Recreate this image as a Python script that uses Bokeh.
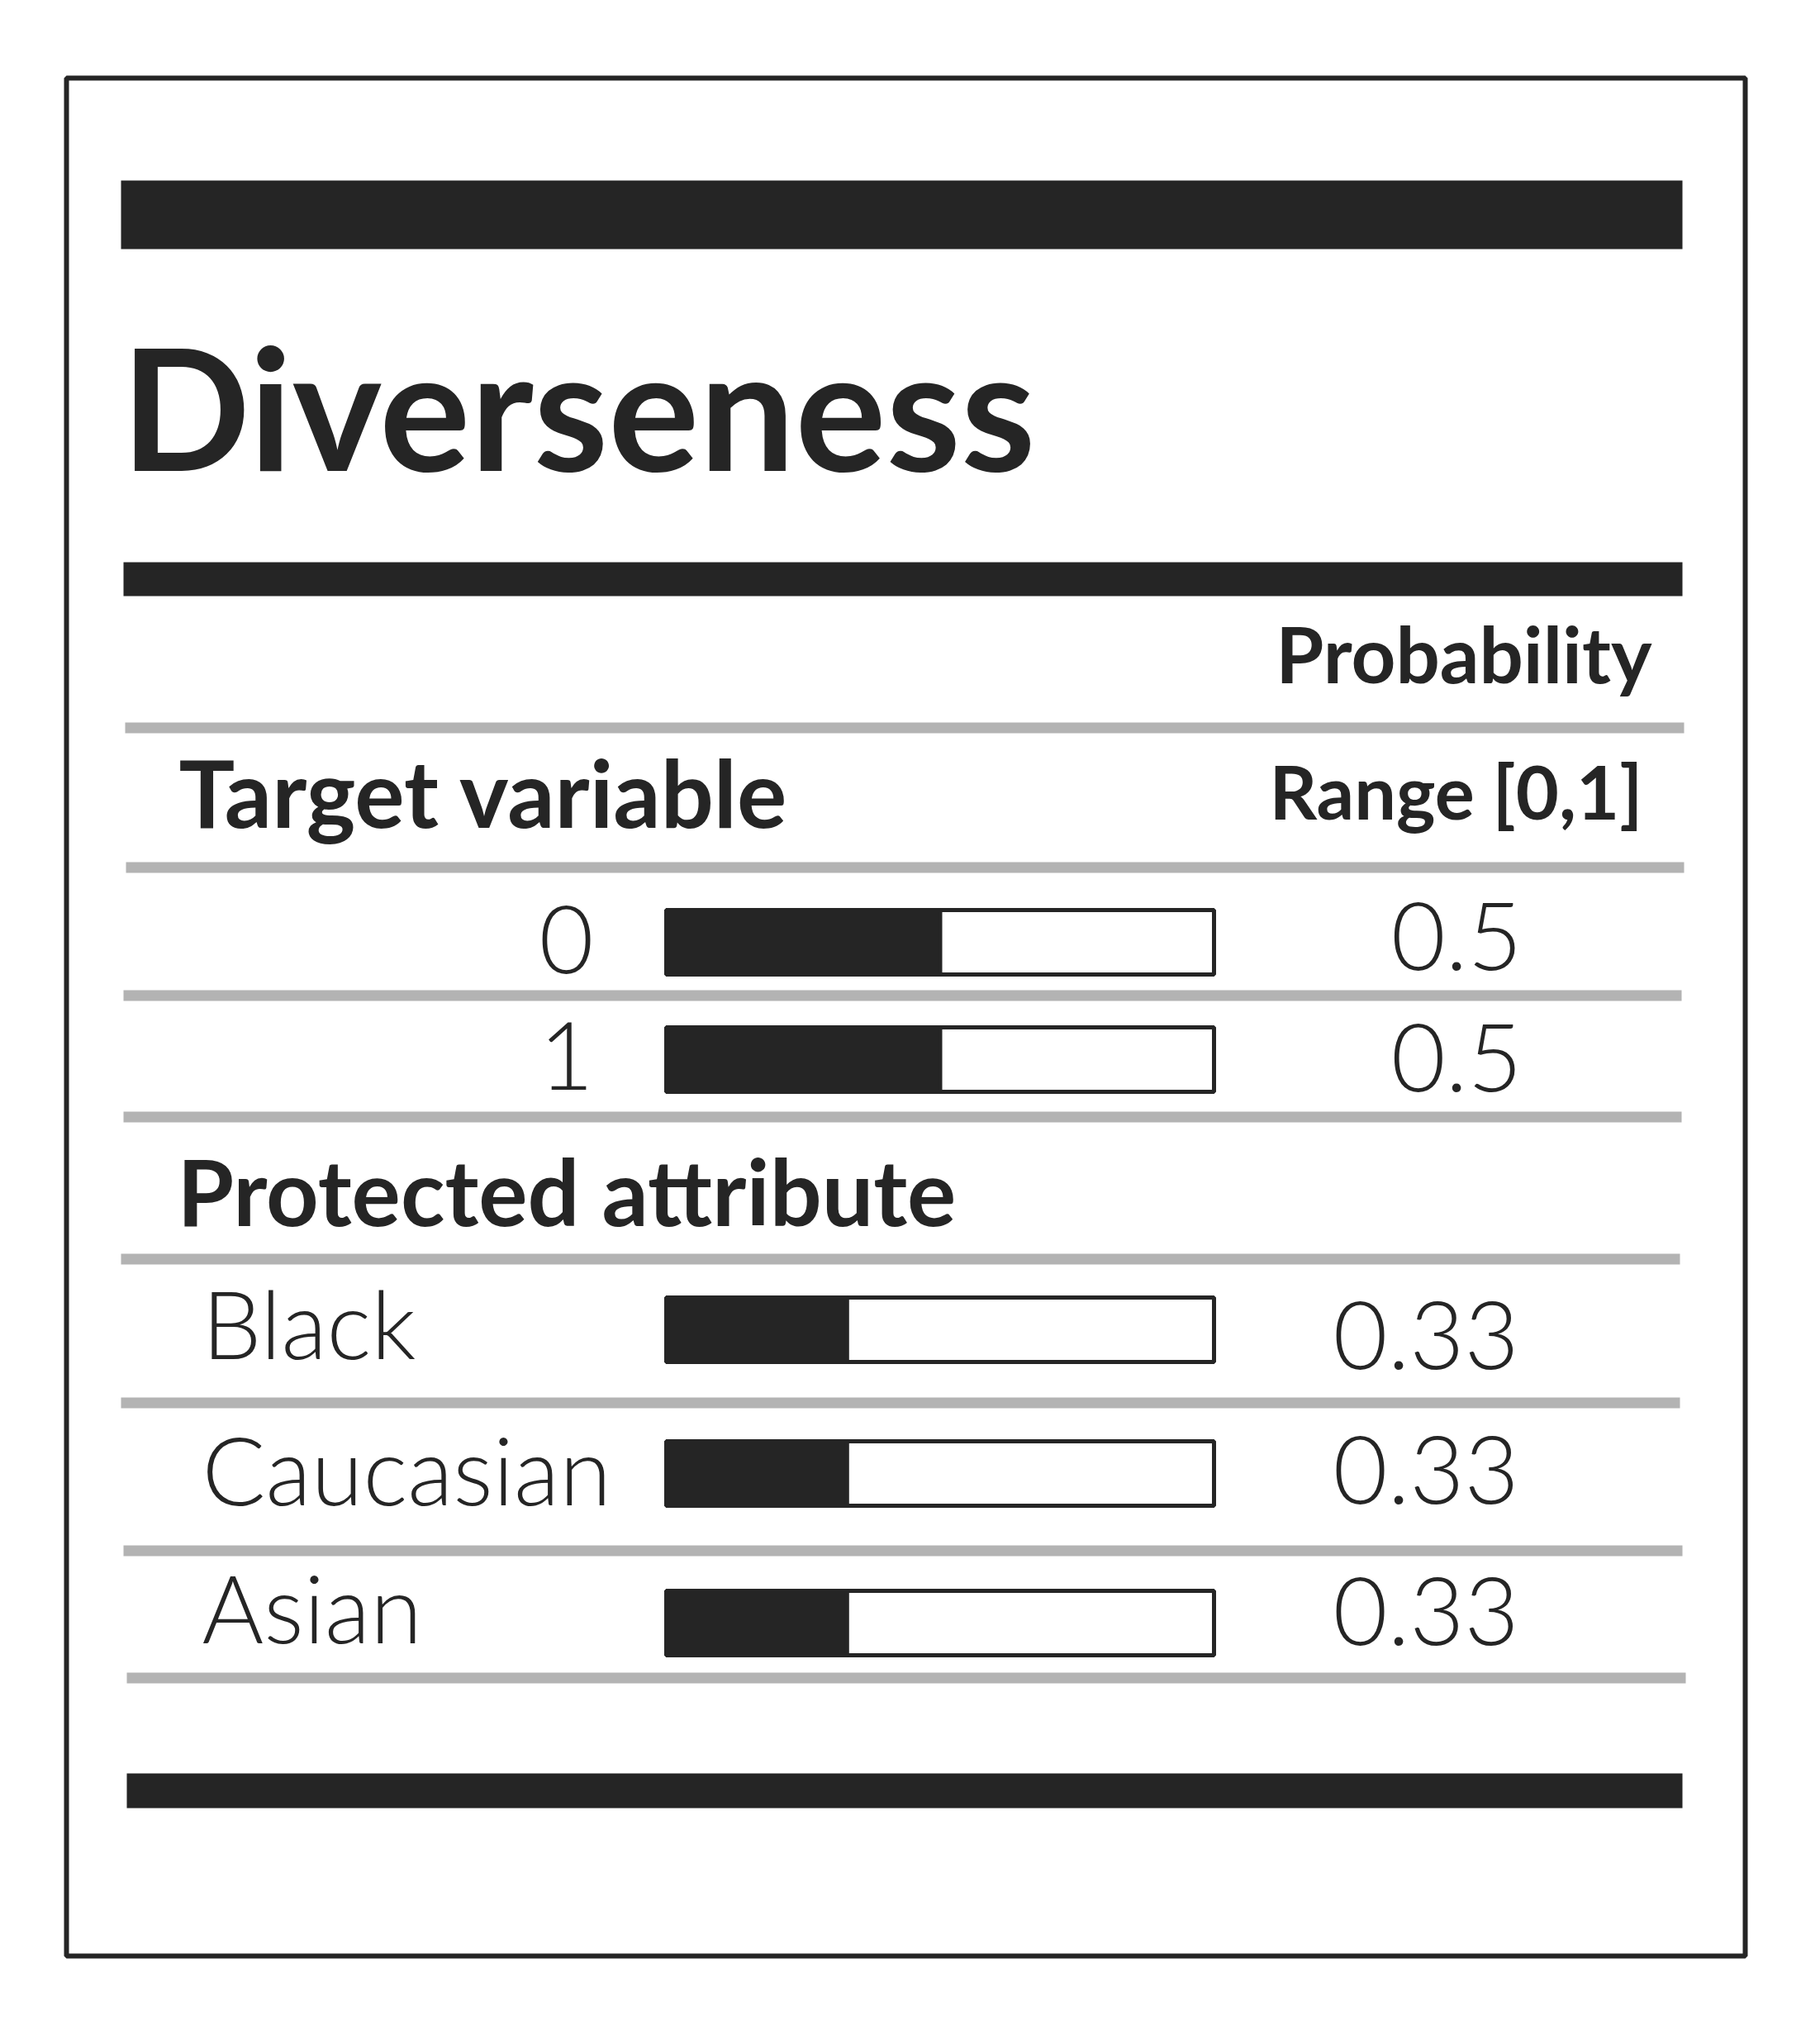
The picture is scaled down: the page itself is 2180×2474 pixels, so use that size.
from bokeh.plotting import figure
from bokeh.models import Range1d, ColumnDataSource
from bokeh.core.properties import value
from bokeh.embed import file_html
from bokeh.resources import INLINE

# ---------------- data ----------------
title = "Diverseness"
header_top = "Probability"
header_bottom = "Range [0,1]"
section_target = "Target variable"
section_protected = "Protected attribute"
target_categories = ["0", "1"]
target_probs = [0.5, 0.5]
protected_categories = ["Black", "Caucasian", "Asian"]
protected_probs = [0.33, 0.33, 0.33]

# ---------------- layout (pixel space) ----------------
DARK = "#252525"
GREY = "#b3b3b3"
BOLD = value("Lato")
LIGHT = value("Lato Light")
K = 0.39  # baseline correction (fraction of font size)


def bl(y, size):
    return y - K * size


W, H = 2164, 2458
p = figure(width=W, height=H, x_range=Range1d(0, W), y_range=Range1d(H, 0),
           output_backend="svg", toolbar_location=None, min_border=0,
           background_fill_color="white", border_fill_color="white")
p.axis.visible = False
p.grid.visible = False
p.outline_line_color = None

# outer frame
p.quad(left=[80], right=[2112], top=[94], bottom=[2367], fill_color=None,
       line_color=DARK, line_width=6)

# thick black rules
p.quad(left=[146, 149, 153], right=[2036, 2036, 2036], top=[218, 680, 2146],
       bottom=[301, 721, 2188], fill_color=DARK, line_color=None)

# grey rules
g_top = [874, 1043, 1198, 1345, 1517, 1691, 1870, 2024]
g_left = [151, 152, 149, 149, 146, 146, 149, 153]
g_right = [2038, 2038, 2035, 2035, 2033, 2033, 2036, 2040]
p.quad(left=g_left, right=g_right, top=g_top, bottom=[t + 13 for t in g_top],
       fill_color=GREY, line_color=None)

# title and headers
p.text(x=[146], y=[bl(570, 206)], text=[title], text_font=BOLD, text_font_style="bold",
       text_font_size="206px", text_color=DARK, text_baseline="alphabetic")
p.text(x=[1999], y=[bl(827, 94)], text=[header_top], text_font=BOLD, text_font_style="bold",
       text_font_size="94px", text_color=DARK, text_align="right", text_baseline="alphabetic")
p.text(x=[1988], y=[bl(992, 90)], text=[header_bottom], text_font=BOLD, text_font_style="bold",
       text_font_size="90px", text_color=DARK, text_align="right", text_baseline="alphabetic")
p.text(x=[216], y=[bl(1002, 113)], text=[section_target],
       text_font=BOLD, text_font_style="bold", text_font_size="113px",
       text_color=DARK, text_baseline="alphabetic")
p.text(x=[214], y=[bl(1484, 111)], text=[section_protected],
       text_font=BOLD, text_font_style="bold", text_font_size="111px",
       text_color=DARK, text_baseline="alphabetic")

BAR_L, BAR_R, BAR_H = 806, 1469, 78
LS = 114


def rows(cats, probs, bar_tops, label_x, label_align, label_base, value_x, value_base):
    src = ColumnDataSource(dict(
        cat=cats,
        prob=probs,
        txt=[f"{v:g}" for v in probs],
        top=bar_tops,
        bottom=[t + BAR_H for t in bar_tops],
        left=[BAR_L] * len(cats),
        right=[BAR_R] * len(cats),
        fill_right=[BAR_L + (BAR_R - BAR_L) * v for v in probs],
        lx=[label_x] * len(cats),
        ly=[bl(y, LS) for y in label_base],
        vx=[value_x] * len(cats),
        vy=[bl(y, LS) for y in value_base],
    ))
    p.quad(left="left", right="right", top="top", bottom="bottom", source=src,
           fill_color="white", line_color=DARK, line_width=5)
    p.quad(left="left", right="fill_right", top="top", bottom="bottom", source=src,
           fill_color=DARK, line_color=DARK, line_width=5)
    p.text(x="lx", y="ly", text="cat", source=src, text_font=LIGHT,
           text_font_size=f"{LS}px", text_color=DARK, text_align=label_align,
           text_baseline="alphabetic")
    p.text(x="vx", y="vy", text="txt", source=src, text_font=LIGHT,
           text_font_size=f"{LS}px", text_color=DARK, text_align="right",
           text_baseline="alphabetic")


rows(target_categories, target_probs, [1101, 1243], 718, "right", [1181, 1322], 1842, [1177, 1324])
rows(protected_categories, protected_probs, [1570, 1744, 1925], 244, "left",
     [1644, 1821, 1988], 1838, [1660, 1823, 1994])

open("out.html", "w").write(file_html(p, INLINE))
